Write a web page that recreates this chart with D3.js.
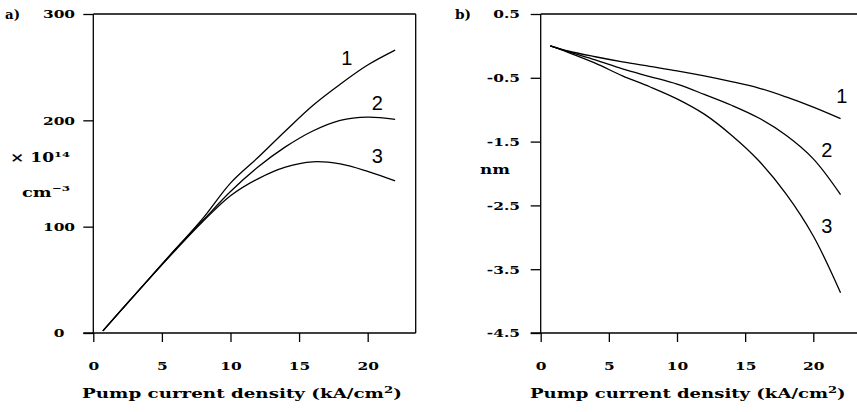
<!DOCTYPE html>
<html>
<head>
<meta charset="utf-8">
<script src="https://cdn.jsdelivr.net/npm/d3@7"></script>
<style>
  body { margin: 0; background: #fff; }
  .tick text, .serif-label { font-family: "DejaVu Serif", serif; font-weight: bold; fill: #000; }
  .curve-label { font-family: "Liberation Sans", sans-serif; font-size: 20px; fill: #000; }
</style>
</head>
<body>
<div id="chart"></div>
<script>
// pump current density (kA/cm2), shared by all curves
var pumpCurrent = [0.7, 2, 4, 6, 8, 10, 12, 14, 16, 18, 20, 22];

// panel a) carrier density, x 10^14 cm^-3
var densityCurve1 = [2, 21, 50, 79, 108, 141, 165, 190, 214, 234, 252, 266];
var densityCurve2 = [2, 21, 50, 79, 106, 133, 156, 175, 190, 200, 203, 201];
var densityCurve3 = [2, 21, 50, 78, 105, 129, 145, 156, 161, 159, 152, 143];

// panel b) wavelength shift, nm
var shiftCurve1 = [0, -0.08, -0.17, -0.25, -0.32, -0.39, -0.47, -0.56, -0.66, -0.80, -0.96, -1.14];
var shiftCurve2 = [0, -0.09, -0.22, -0.36, -0.48, -0.60, -0.76, -0.93, -1.13, -1.40, -1.77, -2.33];
var shiftCurve3 = [0, -0.10, -0.27, -0.47, -0.64, -0.83, -1.07, -1.40, -1.80, -2.32, -2.98, -3.87];

// tick values
var xTicks = [0, 5, 10, 15, 20];
var densityTicks = [0, 100, 200, 300];
var shiftTicks = [0.5, -0.5, -1.5, -2.5, -3.5, -4.5];

var svgWidth = 857;
var svgHeight = 412;

// the original lettering is wide and short, so glyphs get stretched sideways
var stretch = 1.4;

var svg = d3.select("#chart")
  .append("svg")
  .attr("width", svgWidth)
  .attr("height", svgHeight);

var plotTop = 14;
var plotBottom = 333;

// scales for panel a
var xA = d3.scaleLinear().domain([0, 23.5]).range([93.3, 415.7]);
var yA = d3.scaleLinear().domain([0, 300]).range([plotBottom, plotTop]);

// scales for panel b
var xB = d3.scaleLinear().domain([0, 23.5]).range([540.7, 540.7 + 13.63 * 23.5]);
var yB = d3.scaleLinear().domain([-4.5, 0.5]).range([plotBottom, plotTop]);

// text that starts at left, squeezed or stretched to fit a given width
function fittedText(left, baseline, width, size, parts) {
  var t = svg.append("text")
    .attr("class", "serif-label")
    .attr("x", 0)
    .attr("y", 0)
    .style("font-size", size + "px");
  parts.forEach(function(p) {
    var span = t.append("tspan").text(p.text);
    if (p.sup) span.attr("dy", p.sup).style("font-size", Math.round(size * 0.7) + "px");
    if (p.back) span.attr("dy", p.back);
  });
  var natural = t.node().getComputedTextLength();
  t.attr("transform", `translate(${left}, ${baseline}) scale(${width / natural}, 1)`);
  return t;
}

function drawPanel(xScale, yScale, yTickVals, yFormat, labelX, labelAnchor, rightEdge, closeRight) {
  var g = svg.append("g");

  // left axis with outside ticks
  var leftAxis = d3.axisLeft(yScale)
    .tickValues(yTickVals)
    .tickSize(10)
    .tickFormat(yFormat);
  var yAxis = g.append("g")
    .attr("transform", `translate(${xScale(0)}, 0)`)
    .call(leftAxis);
  yAxis.select(".domain").remove();
  yAxis.selectAll("line").attr("stroke-width", 1.3);
  yAxis.selectAll("text")
    .style("font-size", "11px")
    .attr("x", 0)
    .attr("dy", "0.36em")
    .attr("text-anchor", labelAnchor)
    .attr("transform", `translate(${labelX - xScale(0)}, 0) scale(${stretch}, 1)`);

  // bottom axis
  var bottomAxis = d3.axisBottom(xScale)
    .tickValues(xTicks)
    .tickSize(9)
    .tickPadding(20)
    .tickFormat(d3.format("d"));
  var xAxis = g.append("g")
    .attr("transform", `translate(0, ${plotBottom})`)
    .call(bottomAxis);
  xAxis.select(".domain").remove();
  xAxis.selectAll("line").attr("stroke-width", 1.3);
  xAxis.selectAll("text")
    .style("font-size", "11px")
    .attr("transform", `scale(${stretch}, 1)`);

  // frame lines
  var frame = [
    [xScale(0), plotTop, xScale(0), plotBottom],
    [xScale(0) - 10, plotBottom, rightEdge, plotBottom],
    [xScale(0), plotTop, rightEdge, plotTop]
  ];
  if (closeRight) frame.push([rightEdge, plotTop, rightEdge, plotBottom]);
  g.selectAll(".frame")
    .data(frame)
    .enter()
    .append("line")
    .attr("x1", d => d[0]).attr("y1", d => d[1])
    .attr("x2", d => d[2]).attr("y2", d => d[3])
    .attr("stroke", "#000")
    .attr("stroke-width", 1.3);

  return g;
}

function drawCurves(g, xScale, yScale, series) {
  var line = d3.line()
    .x((d, i) => xScale(pumpCurrent[i]))
    .y(d => yScale(d))
    .curve(d3.curveCatmullRom.alpha(0.5));

  g.selectAll(".curve")
    .data(series)
    .enter()
    .append("path")
    .attr("class", "curve")
    .attr("d", d => line(d))
    .attr("fill", "none")
    .attr("stroke", "#000")
    .attr("stroke-width", 1.3);
}

// panel a
var panelA = drawPanel(xA, yA, densityTicks, d3.format("d"), 59, "middle", 415.7, true);
drawCurves(panelA, xA, yA, [densityCurve1, densityCurve2, densityCurve3]);

// panel b
var panelB = drawPanel(xB, yB, shiftTicks, d => d3.format(".1f")(d).replace("−", "-"), 520, "end", 857, false);
drawCurves(panelB, xB, yB, [shiftCurve1, shiftCurve2, shiftCurve3]);

// x axis titles
var titleParts = [
  {text: "Pump current density (kA/cm"},
  {text: "2", sup: -5},
  {text: ")", back: 5}
];
fittedText(82, 398, 320, 12.5, titleParts);
fittedText(530, 398, 316, 12.5, titleParts);

// panel tags
fittedText(5, 19, 15, 12, [{text: "a)"}]);
fittedText(455, 19, 16, 12, [{text: "b)"}]);

// y unit labels
fittedText(10, 162, 60, 12, [{text: "× 10"}, {text: "14", sup: -5}]);
fittedText(22, 197, 48, 12, [{text: "cm"}, {text: "−3", sup: -6}]);
fittedText(480, 174, 30, 13, [{text: "nm"}]);

// curve numbers
var curveLabels = [
  {x: xA(18.47), y: yA(252), t: "1"},
  {x: xA(20.7), y: yA(210), t: "2"},
  {x: xA(20.7), y: yA(160), t: "3"},
  {x: xB(22.1), y: yB(-0.9), t: "1"},
  {x: xB(21.0), y: yB(-1.74), t: "2"},
  {x: xB(21.0), y: yB(-2.93), t: "3"}
];
svg.selectAll(".curve-label")
  .data(curveLabels)
  .enter()
  .append("text")
  .attr("class", "curve-label")
  .attr("x", d => d.x)
  .attr("y", d => d.y)
  .attr("text-anchor", "middle")
  .text(d => d.t);
</script>
</body>
</html>
